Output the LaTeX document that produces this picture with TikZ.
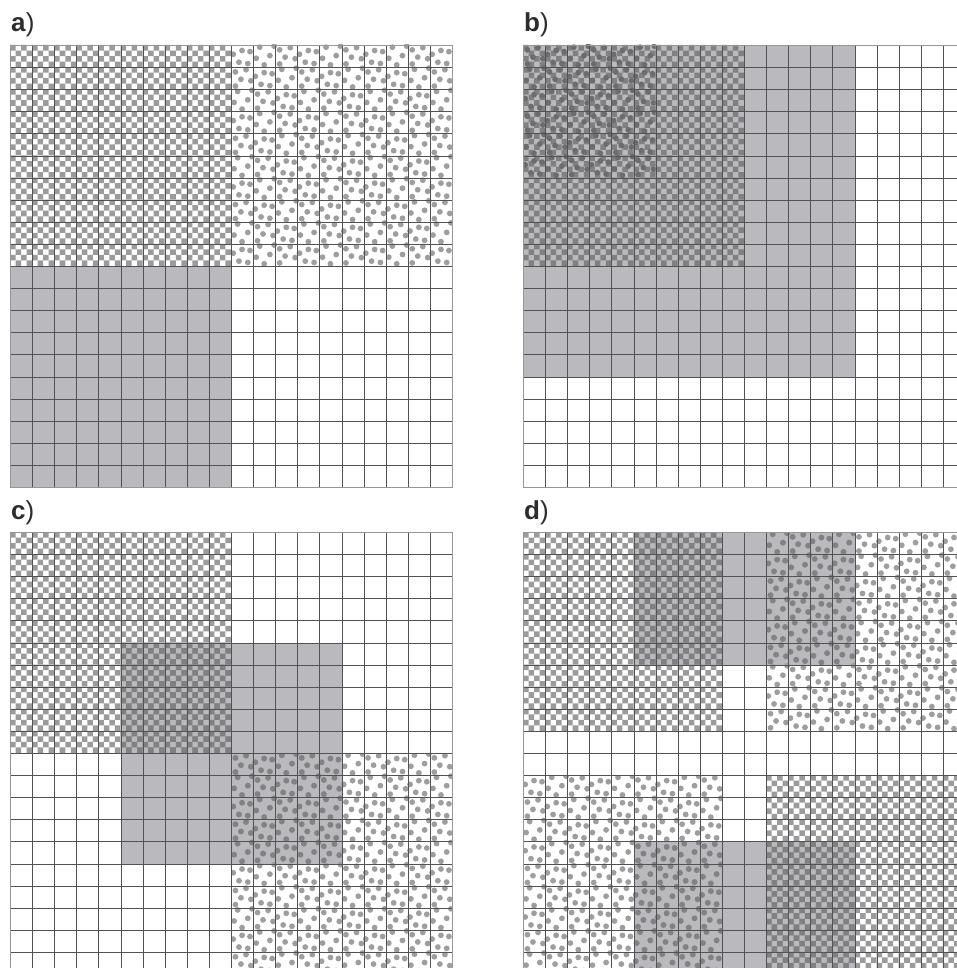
\documentclass[tikz,border=0pt]{standalone}
\usepackage{fontspec}
\setmainfont{Liberation Sans}
\definecolor{gfill}{RGB}{186,186,190}
\definecolor{ck}{RGB}{155,155,155}
\definecolor{ckg}{RGB}{128,128,131}
\definecolor{dt}{RGB}{158,158,158}
\definecolor{dtg}{RGB}{130,130,133}
\definecolor{dtgc}{RGB}{108,108,110}
\definecolor{glc}{RGB}{82,82,84}
\definecolor{gbc}{RGB}{150,150,152}
\definecolor{labc}{RGB}{45,45,45}
\tikzset{
  gline/.style={draw=glc, line width=1.1pt},
  gborder/.style={draw=gbc, line width=1pt},
  panellabel/.style={anchor=base west, inner sep=0pt, text=labc, font=\fontsize{26}{26}\selectfont}
}
\newcommand\csz{22.1}
\newcommand\subsz{5.525}
\newcommand\dlistA{0.2/0.22,0.68/0.12,0.45/0.55,0.9/0.62,0.2/0.86}
\newcommand\dlistB{0.1/0.42,0.5/0.25,0.86/0.3,0.36/0.78,0.76/0.84}
\newcommand\dlistC{0.3/0.1,0.76/0.48,0.14/0.6,0.5/0.9,0.95/0.05}
% gray block: x0 y0 c0 r0 c1 r1
\newcommand{\gryr}[6]{\fill[gfill] ({#1+#3*\csz},{#2+#4*\csz}) rectangle ({#1+(#5+1)*\csz},{#2+(#6+1)*\csz});}
% checker: x0 y0 c0 r0 c1 r1 colour
\newcommand{\chkr}[7]{%
  \pgfmathtruncatemacro\ia{4*#3}%
  \pgfmathtruncatemacro\ib{4*#5+3}%
  \pgfmathtruncatemacro\ja{4*#4}%
  \pgfmathtruncatemacro\jb{4*#6+3}%
  \foreach \i in {\ia,...,\ib}{%
    \pgfmathtruncatemacro\js{\ja+mod(\i+\ja,2)}%
    \pgfmathtruncatemacro\jn{\js+2}%
    \fill[#7] \foreach \j in {\js,\jn,...,\jb}{({#1+\i*\subsz},{#2+\j*\subsz}) rectangle ++(\subsz,\subsz)};
  }}
% dots: x0 y0 c0 r0 c1 r1 colour
\newcommand{\dotr}[7]{%
  \begin{scope}
  \clip ({#1+#3*\csz},{#2+#4*\csz}) rectangle ({#1+(#5+1)*\csz},{#2+(#6+1)*\csz});
  \foreach \i in {#3,...,#5}{%
    \foreach \j in {#4,...,#6}{%
      \pgfmathtruncatemacro\q{mod(\i+2*\j,3)}%
      \ifcase\q\relax \let\dlist\dlistA\or \let\dlist\dlistB\else \let\dlist\dlistC\fi
      \fill[#7] \foreach \u/\v in \dlist { ({#1+(\i+\u)*\csz},{#2+(\j+\v)*\csz}) circle[radius=2.9pt] };
    }%
  }
  \end{scope}}
% grid: x0 y0 (lines snapped to pixel centres)
\newcommand{\grdp}[2]{%
  \draw[gline] \foreach \k in {1,...,19}{ ({round(#1+\k*\csz)+0.5},{#2}) -- ({round(#1+\k*\csz)+0.5},{#2+20*\csz}) ({#1},{round(#2+\k*\csz)+0.5}) -- ({#1+20*\csz},{round(#2+\k*\csz)+0.5}) };
  \draw[gborder] ({#1+0.5},{#2+0.5}) rectangle ({round(#1+20*\csz)+0.5},{round(#2+20*\csz)+0.5});}
\begin{document}
\begin{tikzpicture}[x=1pt,y=-1pt]
\useasboundingbox (0,0) rectangle (957,968);
\fill[white] (0,0) rectangle (957,968);
\clip (0,0) rectangle (957,968);
% ---- panel a ----
\gryr{10}{45}{0}{10}{9}{19}
\chkr{10}{45}{0}{0}{9}{9}{ck}
\dotr{10}{45}{10}{0}{19}{9}{dt}
\grdp{10}{45}
% ---- panel b ----
\gryr{523}{45}{0}{0}{14}{14}
\chkr{523}{45}{0}{0}{9}{9}{ckg}
\dotr{523}{45}{0}{0}{5}{5}{dtgc}
\grdp{523}{45}
% ---- panel c ----
\gryr{10}{532}{5}{5}{14}{14}
\chkr{10}{532}{0}{0}{9}{9}{ck}
\chkr{10}{532}{5}{5}{9}{9}{ckg}
\dotr{10}{532}{10}{10}{19}{19}{dt}
\dotr{10}{532}{10}{10}{14}{14}{dtg}
\grdp{10}{532}
% ---- panel d ----
\gryr{523}{532}{5}{0}{14}{5}
\gryr{523}{532}{5}{14}{14}{19}
\chkr{523}{532}{0}{0}{8}{8}{ck}
\chkr{523}{532}{5}{0}{8}{5}{ckg}
\dotr{523}{532}{11}{0}{19}{8}{dt}
\dotr{523}{532}{11}{0}{14}{5}{dtg}
\dotr{523}{532}{0}{11}{8}{19}{dt}
\dotr{523}{532}{5}{14}{8}{19}{dtg}
\chkr{523}{532}{11}{11}{19}{19}{ck}
\chkr{523}{532}{11}{14}{14}{19}{ckg}
\grdp{523}{532}
% ---- labels ----
\node[panellabel] (la) at (11,32) {\textbf{a})};
\node[panellabel] (lb) at (524,32) {\textbf{b})};
\node[panellabel] (lc) at (11,519) {\textbf{c})};
\node[panellabel] (ld) at (524,519) {\textbf{d})};
\end{tikzpicture}
\end{document}
